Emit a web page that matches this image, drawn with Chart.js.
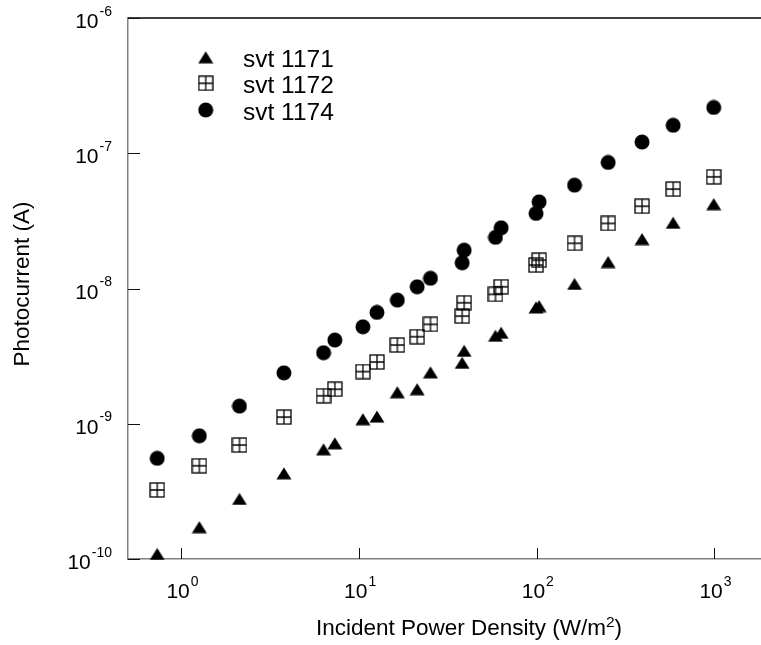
<!DOCTYPE html>
<html>
<head>
<meta charset="utf-8">
<script src="https://cdn.jsdelivr.net/npm/chart.js@4.4.0/dist/chart.umd.min.js"></script>
<style>
  html, body { margin: 0; padding: 0; background: #fff; overflow: hidden; }
  #wrap { width: 761px; height: 645px; }
</style>
</head>
<body>
<div id="wrap"><canvas id="photoChart" width="761" height="645"></canvas></div>
<script>
// --- DATA ---
const powerDensity = [0.73, 1.26, 2.12, 3.77, 6.3, 7.3, 10.5, 12.6, 16.4, 21.2, 25.2,
                      38, 39, 58.5, 63, 99, 103, 163, 252, 391, 585, 990];
const svt1171 = [1.09e-10, 1.72e-10, 2.78e-10, 4.3e-10, 6.47e-10, 7.16e-10, 1.08e-9, 1.13e-9,
                 1.71e-9, 1.8e-9, 2.4e-9, 2.82e-9, 3.46e-9, 4.47e-9, 4.71e-9, 7.25e-9, 7.41e-9,
                 1.08e-8, 1.57e-8, 2.32e-8, 3.06e-8, 4.21e-8];
const svt1172 = [3.24e-10, 4.89e-10, 6.96e-10, 1.12e-9, 1.61e-9, 1.8e-9, 2.43e-9, 2.86e-9,
                 3.82e-9, 4.4e-9, 5.43e-9, 6.25e-9, 7.84e-9, 9.05e-9, 1.03e-8, 1.49e-8, 1.62e-8,
                 2.16e-8, 3.03e-8, 4.06e-8, 5.43e-8, 6.69e-8];
const svt1174 = [5.55e-10, 8.15e-10, 1.35e-9, 2.38e-9, 3.35e-9, 4.16e-9, 5.21e-9, 6.66e-9,
                 8.21e-9, 1.03e-8, 1.19e-8, 1.55e-8, 1.92e-8, 2.39e-8, 2.81e-8, 3.59e-8, 4.37e-8,
                 5.81e-8, 8.55e-8, 1.21e-7, 1.61e-7, 2.18e-7];
const seriesLabels = ['svt 1171', 'svt 1172', 'svt 1174'];
const xTicks = [1, 10, 100, 1000];
const yTicks = [1e-10, 1e-9, 1e-8, 1e-7, 1e-6];

const FONT = '"Liberation Sans", Arial, Helvetica, sans-serif';

// --- marker images ---
function triangleMarker() {
    const c = document.createElement('canvas');
    c.width = 16; c.height = 13;
    const g = c.getContext('2d');
    g.fillStyle = '#000';
    g.beginPath();
    g.moveTo(8, 0.5);
    g.lineTo(15.5, 12.5);
    g.lineTo(0.5, 12.5);
    g.closePath();
    g.fill();
    return c;
}
function gridSquareMarker() {
    const c = document.createElement('canvas');
    c.width = 16; c.height = 16;
    const g = c.getContext('2d');
    g.strokeStyle = '#000';
    g.lineWidth = 1.3;
    g.strokeRect(1, 1, 14, 14);
    g.beginPath();
    g.moveTo(8, 1); g.lineTo(8, 15);
    g.moveTo(1, 8); g.lineTo(15, 8);
    g.stroke();
    return c;
}
function circleMarker() {
    const c = document.createElement('canvas');
    c.width = 16; c.height = 16;
    const g = c.getContext('2d');
    g.fillStyle = '#000';
    g.beginPath();
    g.arc(8, 8, 7.5, 0, Math.PI * 2);
    g.fill();
    return c;
}
const markers = [triangleMarker(), gridSquareMarker(), circleMarker()];

function toPoints(ys) {
    return powerDensity.map((x, i) => ({ x: x, y: ys[i] }));
}

// draws "10" with a raised exponent
function drawPow(ctx, exp, x, baseline, align) {
    ctx.font = '21px ' + FONT;
    const w1 = ctx.measureText('10').width;
    ctx.font = '14px ' + FONT;
    const w2 = ctx.measureText(exp).width;
    const total = w1 + 1 + w2;
    let start = align === 'right' ? x - total : x - total / 2;
    ctx.textAlign = 'left';
    ctx.textBaseline = 'alphabetic';
    ctx.font = '21px ' + FONT;
    ctx.fillText('10', start, baseline);
    ctx.font = '14px ' + FONT;
    ctx.fillText(exp, start + w1 + 1, baseline - 12.5);
}

const decorPlugin = {
    id: 'decor',
    afterDraw(chart) {
        const ctx = chart.ctx;
        const area = chart.chartArea;
        const xs = chart.scales.x, ys = chart.scales.y;
        ctx.save();
        ctx.fillStyle = '#000';

        // top frame line
        ctx.strokeStyle = '#000';
        ctx.lineWidth = 1.5;
        ctx.beginPath();
        ctx.moveTo(area.left, area.top);
        ctx.lineTo(chart.width, area.top);
        ctx.stroke();

        // inward tick marks
        ctx.lineWidth = 1;
        ctx.strokeStyle = '#111';
        ctx.beginPath();
        xTicks.forEach(v => {
            const px = Math.round(xs.getPixelForValue(v)) + 0.5;
            ctx.moveTo(px, area.bottom);
            ctx.lineTo(px, area.bottom - 11);
        });
        yTicks.forEach(v => {
            const py = Math.round(ys.getPixelForValue(v)) + 0.5;
            ctx.moveTo(area.left, py);
            ctx.lineTo(area.left + 12, py);
        });
        ctx.stroke();

        // tick labels
        xTicks.forEach(v => {
            drawPow(ctx, String(Math.round(Math.log10(v))), xs.getPixelForValue(v) + 1, area.bottom + 39, 'center');
        });
        yTicks.forEach(v => {
            drawPow(ctx, String(Math.round(Math.log10(v))), area.left - 16, ys.getPixelForValue(v) + 10, 'right');
        });

        // x title with superscript
        ctx.font = '22.5px ' + FONT;
        const part1 = 'Incident Power Density (W/m';
        const w1 = ctx.measureText(part1).width;
        ctx.font = '15.5px ' + FONT;
        const w2 = ctx.measureText('2').width;
        ctx.font = '22.5px ' + FONT;
        const w3 = ctx.measureText(')').width;
        let sx = 469 - (w1 + w2 + w3) / 2;
        ctx.textAlign = 'left';
        ctx.textBaseline = 'alphabetic';
        ctx.fillText(part1, sx, 635);
        ctx.font = '15.5px ' + FONT;
        ctx.fillText('2', sx + w1, 627);
        ctx.font = '22.5px ' + FONT;
        ctx.fillText(')', sx + w1 + w2, 635);

        // y title
        ctx.save();
        ctx.translate(29, 284);
        ctx.rotate(-Math.PI / 2);
        ctx.textAlign = 'center';
        ctx.font = '22.5px ' + FONT;
        ctx.fillText('Photocurrent (A)', 0, 0);
        ctx.restore();

        // legend
        const legendY = [57.3, 83.3, 110];
        chart.data.datasets.forEach((ds, i) => {
            const img = ds.pointStyle;
            ctx.drawImage(img, 205.7 - img.width / 2, legendY[i] - img.height / 2);
            ctx.font = '24.5px ' + FONT;
            ctx.textAlign = 'left';
            ctx.textBaseline = 'alphabetic';
            ctx.fillText(ds.label, 243, legendY[i] + 10);
        });
        ctx.restore();
    }
};

const ctx = document.getElementById('photoChart').getContext('2d');
new Chart(ctx, {
    type: 'scatter',
    data: {
        datasets: [svt1171, svt1172, svt1174].map((ys, i) => ({
            label: seriesLabels[i],
            data: toPoints(ys),
            pointStyle: markers[i],
            pointRadius: 8,
            showLine: false,
            clip: false
        }))
    },
    options: {
        responsive: false,
        animation: false,
        events: [],
        layout: { autoPadding: false, padding: { top: 18, left: 0, right: 0, bottom: 0 } },
        plugins: { legend: { display: false }, tooltip: { enabled: false } },
        scales: {
            x: {
                type: 'logarithmic',
                min: 0.5,
                max: 1827,
                grid: { display: false },
                border: { display: true, color: '#808080', width: 1.5 },
                ticks: { display: false },
                afterBuildTicks: s => { s.ticks = xTicks.map(v => ({ value: v })); },
                afterFit: s => { s.height = 86; }
            },
            y: {
                type: 'logarithmic',
                min: 1e-10,
                max: 1e-6,
                grid: { display: false },
                border: { display: true, color: '#808080', width: 1.5 },
                ticks: { display: false },
                afterBuildTicks: s => { s.ticks = yTicks.map(v => ({ value: v })); },
                afterFit: s => { s.width = 128; }
            }
        }
    },
    plugins: [decorPlugin]
});
</script>
</body>
</html>
